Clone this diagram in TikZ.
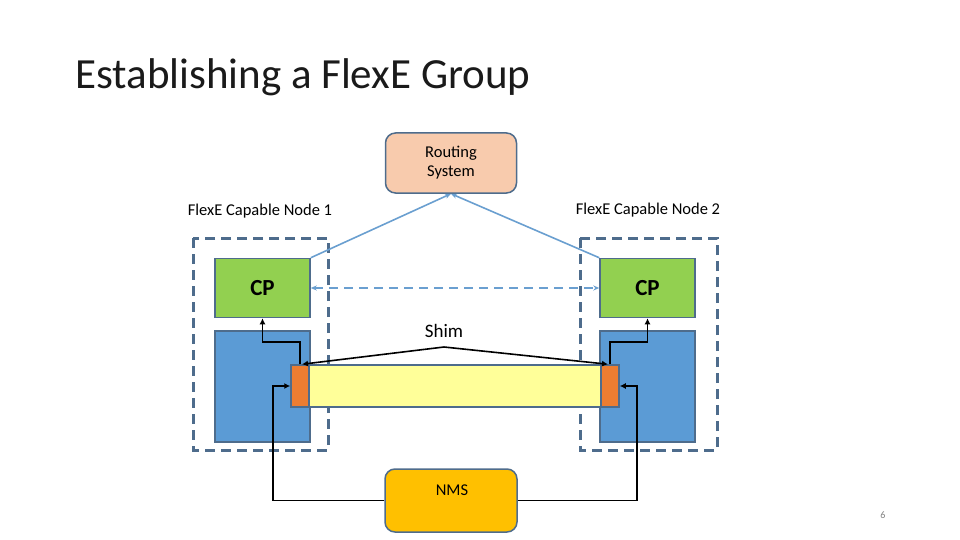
\documentclass[tikz,border=0pt]{standalone}
\usepackage{fontspec}
\setmainfont{Carlito}
\usetikzlibrary{arrows.meta,calc}
\definecolor{slate}{HTML}{4E6C8C}
\definecolor{peach}{HTML}{F8CBAD}
\definecolor{cpgreen}{HTML}{92D050}
\definecolor{boxblue}{HTML}{5B9BD5}
\definecolor{orng}{HTML}{ED7D31}
\definecolor{ylw}{HTML}{FFFF99}
\definecolor{nmsc}{HTML}{FFC000}
\definecolor{lblue}{HTML}{6A9FD0}
\definecolor{titlec}{HTML}{1A1A1A}
\begin{document}
\begin{tikzpicture}[x=1pt,y=-1pt,
  box/.style={draw=slate,line width=1.5pt,inner sep=0pt,align=center},
  rbox/.style={box,rounded corners=10pt},
  group/.style={draw=slate,line width=3pt,dash pattern=on 10pt off 6pt},
  blueline/.style={draw=lblue,line width=1.6pt},
  blk/.style={draw=black,line width=1.6pt,-{Latex[length=6pt,width=6pt]}},
  lbl/.style={font=\fontsize{16.5}{19}\selectfont,inner sep=0pt}
]
\useasboundingbox (0,0) rectangle (960,540);
% title
\node[anchor=base west,inner sep=0pt,text=titlec,font=\fontsize{43}{50}\selectfont] (title) at (75,89) {Establishing a FlexE Group};
% dashed groups
\draw[group] (193,238) rectangle (328,450);
\draw[group] (580,238) rectangle (717,450);
% labels
\node[lbl] (n1lbl) at (260,211) {FlexE Capable Node 1};
\node[lbl] (n2lbl) at (648,210) {FlexE Capable Node 2};
% routing
\node[rbox,fill=peach,minimum width=131pt,minimum height=60pt,font=\fontsize{16.5}{20}\selectfont] (rs) at (451,163) {\raisebox{3pt}{\begin{tabular}{@{}c@{}}Routing\\System\end{tabular}}};
% CPs
\node[box,fill=cpgreen,minimum width=95pt,minimum height=59pt,font=\fontsize{23}{26}\selectfont\bfseries] (cp1) at (262.5,288) {CP};
\node[box,fill=cpgreen,minimum width=95pt,minimum height=59pt,font=\fontsize{23}{26}\selectfont\bfseries] (cp2) at (647.5,288) {CP};
% blue boxes
\node[box,fill=boxblue,minimum width=95pt,minimum height=111pt] (b1) at (262.5,386.5) {};
\node[box,fill=boxblue,minimum width=95pt,minimum height=111pt] (b2) at (647.5,386.5) {};
% yellow bar and orange ports
\node[box,fill=ylw,minimum width=292pt,minimum height=42pt] (bar) at (455,386) {};
\node[box,fill=orng,minimum width=18pt,minimum height=42pt] (o1) at (300,386) {};
\node[box,fill=orng,minimum width=18pt,minimum height=42pt] (o2) at (610,386) {};
% NMS
\node[rbox,fill=nmsc,minimum width=132pt,minimum height=63pt] (nms) at (451,500.5) {};
\node[lbl] (nmstxt) at (452,490) {NMS};
% shim label
\node[lbl,font=\fontsize{19}{22}\selectfont] (shim) at (444,331) {Shim};
\coordinate (apex) at (444,347);
% blue connectors
\draw[blueline,-{Stealth[length=6pt,width=5pt]}] (cp1.north east) -- (rs.south);
\draw[blueline,-{Stealth[length=6pt,width=5pt]}] (cp2.north west) -- (rs.south);
\draw[blueline,dash pattern=on 9pt off 6pt,{Stealth[length=6pt,width=5pt]}-{Stealth[length=6pt,width=5pt]}] (cp1.east) -- (cp2.west);
% shim arrows
\draw[blk] (apex) -- ($(o1.north)+(2,0)$);
\draw[blk] (apex) -- ($(o2.north)+(-2,0)$);
% port to CP
\coordinate (k1) at (262.5,342);
\coordinate (k2) at (647.5,342);
\draw[blk] (o1.north) |- (k1) -- (cp1.south);
\draw[blk] (o2.north) |- (k2) -- (cp2.south);
% NMS to ports
\coordinate (m1) at (273,386);
\coordinate (m2) at (637,386);
\draw[blk] (nms.west) -| (m1) -- (o1.west);
\draw[blk] (nms.east) -| (m2) -- (o2.east);
% page number
\node[inner sep=0pt,font=\fontsize{10}{12}\selectfont,text=gray] (pg) at (883,515) {6};
\end{tikzpicture}
\end{document}
